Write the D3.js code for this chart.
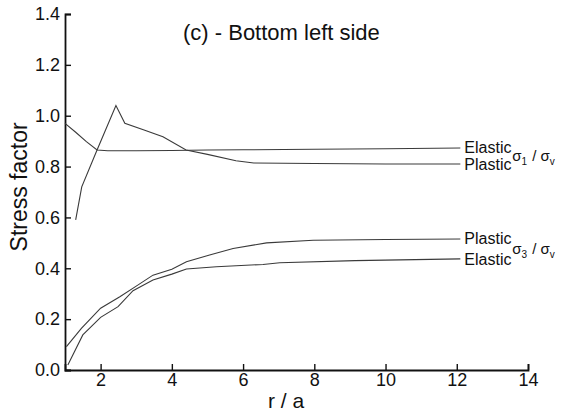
<!DOCTYPE html>
<html>
<head>
<meta charset="utf-8">
<script src="https://cdn.jsdelivr.net/npm/d3@7"></script>
<style>
	body { margin: 0; background: #fff; }
	svg { font-family: Arial, "Liberation Sans", sans-serif; }
</style>
</head>
<body>
<div id="chart"></div>
<script>
	'use strict';
	// values (r/a against stress factor)
	var elasticS1R = [1.0, 1.3, 1.6, 1.9, 2.2, 3.0, 4.0, 5.0, 6.0, 8.0, 10.0, 12.1];
	var elasticS1 = [0.97, 0.935, 0.898, 0.865, 0.862, 0.862, 0.863, 0.865, 0.866, 0.868, 0.870, 0.873];
	var plasticS1R = [1.3, 1.47, 1.9, 2.43, 2.68, 3.2, 3.75, 4.4, 5.0, 5.8, 6.3, 8.0, 10.0, 12.1];
	var plasticS1 = [0.59, 0.72, 0.865, 1.04, 0.97, 0.945, 0.917, 0.865, 0.848, 0.823, 0.814, 0.812, 0.81, 0.81];
	var plasticS3R = [1.04, 1.46, 2.0, 2.54, 3.0, 3.47, 4.0, 4.41, 5.06, 5.72, 6.66, 7.97, 10.0, 12.1];
	var plasticS3 = [0.092, 0.164, 0.243, 0.288, 0.33, 0.373, 0.396, 0.426, 0.452, 0.478, 0.5, 0.51, 0.513, 0.515];
	var elasticS3R = [1.08, 1.5, 2.0, 2.49, 2.91, 3.47, 4.0, 4.41, 5.25, 6.56, 7.03, 9.14, 12.1];
	var elasticS3 = [0.02, 0.138, 0.207, 0.249, 0.312, 0.354, 0.377, 0.397, 0.406, 0.415, 0.422, 0.43, 0.437];
	var xTicks = [2, 4, 6, 8, 10, 12, 14];
	var yTicks = [0.0, 0.2, 0.4, 0.6, 0.8, 1.0, 1.2, 1.4];

	var width = 561, height = 415;
	var margin = {top: 14, right: 33, bottom: 45, left: 65};

	var svg = d3.select('#chart')
		.append('svg')
		.attr('width', width)
		.attr('height', height);

	var x = d3.scaleLinear()
		.domain([1, 14])
		.range([margin.left, width - margin.right]);
	var y = d3.scaleLinear()
		.domain([0, 1.4])
		.range([height - margin.bottom, margin.top]);

	// x-axis, ticks pointing inward
	var gx = svg.append('g')
		.attr('transform', 'translate(0,' + y(0) + ')');
	gx.call(d3.axisBottom(x).tickValues(d3.range(1, 15, 1)).tickSize(-3).tickFormat(''));
	gx.call(d3.axisBottom(x).tickValues(xTicks).tickSize(-6).tickPadding(3)
		.tickFormat(function (d) { return d; }));
	// y-axis
	var gy = svg.append('g')
		.attr('transform', 'translate(' + x(1) + ',0)');
	gy.call(d3.axisLeft(y).tickValues(d3.range(0, 1.45, 0.1)).tickSize(-3).tickFormat(''));
	gy.call(d3.axisLeft(y).tickValues(yTicks).tickSize(-6).tickPadding(5)
		.tickFormat(d3.format('.1f')));

	svg.selectAll('.domain').attr('stroke', '#111').attr('stroke-width', 1.8);
	svg.selectAll('.tick line').attr('stroke', '#111').attr('stroke-width', 1.4);
	svg.selectAll('.tick text')
		.attr('fill', '#111')
		.style('font-size', '18px');

	var line = d3.line()
		.x(function (d) { return x(d[0]); })
		.y(function (d) { return y(d[1]); });

	function series(rs, vs) {
		return rs.map(function (r, i) { return [r, vs[i]]; });
	}

	[[elasticS1R, elasticS1], [plasticS1R, plasticS1], [plasticS3R, plasticS3], [elasticS3R, elasticS3]]
		.forEach(function (s) {
			svg.append('path')
				.datum(series(s[0], s[1]))
				.attr('fill', 'none')
				.attr('stroke', '#3a3a3a')
				.attr('stroke-width', 1.1)
				.attr('d', line);
		});

	// line labels
	var lx = x(12.1) + 4;
	function label(txt, yy) {
		svg.append('text')
			.attr('x', lx)
			.attr('y', yy)
			.attr('fill', '#111')
			.style('font-size', '16px')
			.text(txt);
	}
	label('Elastic', y(0.873) + 5);
	label('Plastic', y(0.81) + 6);
	label('Plastic', y(0.515) + 5);
	label('Elastic', y(0.437) + 6);

	function ratio(sub, yy) {
		var t = svg.append('text')
			.attr('x', lx + 48)
			.attr('y', yy)
			.attr('fill', '#111')
			.style('font-size', '15px');
		t.append('tspan').text('\u03c3');
		t.append('tspan').attr('dy', 4).style('font-size', '10px').text(sub);
		t.append('tspan').attr('dy', -4).attr('dx', 5).text('/ \u03c3');
		t.append('tspan').attr('dy', 4).style('font-size', '10px').text('v');
	}
	ratio('1', y(0.84) + 5);
	ratio('3', y(0.475) + 5);

	// title and axis titles
	svg.append('text')
		.attr('x', 183)
		.attr('y', 40)
		.attr('fill', '#111')
		.style('font-size', '22px')
		.text('(c) - Bottom left side');

	svg.append('text')
		.attr('x', 286)
		.attr('y', 408)
		.attr('text-anchor', 'middle')
		.attr('fill', '#111')
		.style('font-size', '21px')
		.text('r / a');

	svg.append('text')
		.attr('transform', 'translate(27,' + y(0.72) + ') rotate(-90)')
		.attr('text-anchor', 'middle')
		.attr('fill', '#111')
		.style('font-size', '23px')
		.text('Stress  factor');
</script>
</body>
</html>
